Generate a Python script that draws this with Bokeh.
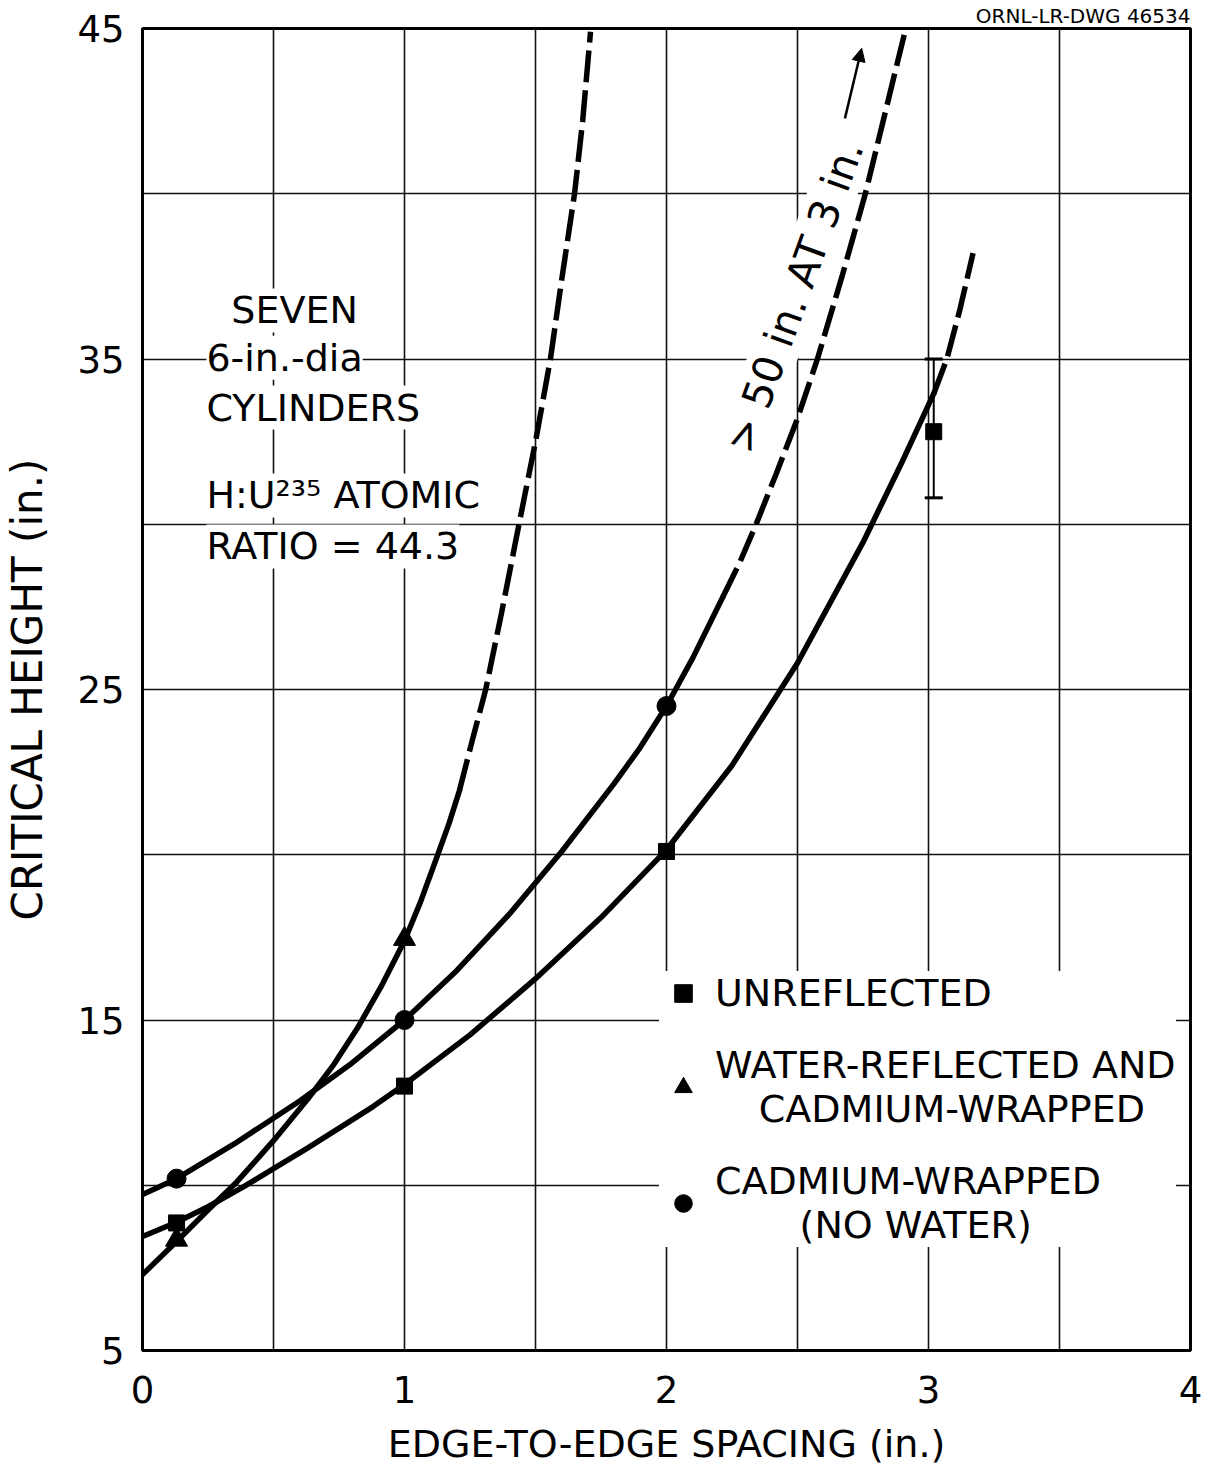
from bokeh.plotting import figure
from bokeh.models import (Range1d, FixedTicker, Label, Legend, LegendItem, Whisker,
                          TeeHead, Arrow, NormalHead, ColumnDataSource)
from bokeh.embed import file_html
from bokeh.resources import INLINE

# ---------------- data ----------------
# Unreflected (squares)
unrefl_x = [0.13, 1.0, 2.0, 3.02]
unrefl_y = [8.86, 13.0, 20.1, 32.8]
unrefl_curve_x = [0.0, 0.13, 0.25, 0.385, 0.5, 0.625, 0.755, 0.88, 1.0, 1.25, 1.5,
                  1.75, 2.0, 2.25, 2.5, 2.75, 2.9, 3.02]
unrefl_curve_y = [8.45, 8.88, 9.35, 9.95, 10.5, 11.1, 11.75, 12.38, 13.05, 14.55, 16.25,
                  18.1, 20.15, 22.7, 25.8, 29.45, 31.9, 33.95]
unrefl_dash_x = [3.02, 3.07, 3.12, 3.17]
unrefl_dash_y = [33.95, 35.0, 36.5, 38.2]
err_x = [3.02]
err_lo = [30.8]
err_hi = [35.0]

# Water-reflected and cadmium-wrapped (triangles)
water_x = [0.13, 1.0]
water_y = [8.35, 17.45]
water_curve_x = [0.0, 0.13, 0.25, 0.36, 0.5, 0.63, 0.73, 0.82, 0.91, 1.0, 1.06, 1.12, 1.17, 1.21]
water_curve_y = [7.3, 8.3, 9.25, 10.1, 11.35, 12.6, 13.65, 14.75, 16.0, 17.4, 18.55, 19.85, 20.95, 21.95]
water_dash_x = [1.21, 1.26, 1.31, 1.37, 1.437, 1.5, 1.557, 1.6, 1.649, 1.68, 1.71]
water_dash_y = [21.95, 23.5, 25.0, 27.3, 30.0, 32.5, 35.0, 37.4, 40.0, 42.2, 44.9]

# Cadmium-wrapped, no water (circles)
cad_x = [0.13, 1.0, 2.0]
cad_y = [10.2, 15.0, 24.5]
cad_curve_x = [0.0, 0.13, 0.35, 0.6, 0.8, 1.0, 1.2, 1.4, 1.6, 1.8, 1.9, 2.0, 2.1, 2.215]
cad_curve_y = [9.72, 10.2, 11.25, 12.55, 13.7, 15.0, 16.5, 18.2, 20.1, 22.15, 23.25, 24.5, 25.95, 27.8]
cad_dash_x = [2.215, 2.28, 2.342, 2.42, 2.5, 2.576, 2.67, 2.759, 2.83, 2.91]
cad_dash_y = [27.8, 28.85, 30.0, 31.55, 33.2, 35.0, 37.5, 40.0, 42.3, 44.9]

x_ticks = [0, 1, 2, 3, 4]
y_ticks = [5, 15, 25, 35, 45]
x_grid = [0.5, 1.0, 1.5, 2.0, 2.5, 3.0, 3.5]
y_grid = [10, 15, 20, 25, 30, 35, 40]

NB = "\u00a0"
legend_labels = ["UNREFLECTED",
                 "WATER-REFLECTED AND\n" + NB * 3 + "\u2009" + "CADMIUM-WRAPPED",
                 "CADMIUM-WRAPPED\n" + NB * 7 + "(NO WATER)"]

FONT = "DejaVu Sans"
LW = 5.5
DASH = "32 8"

p = figure(width=1208, height=1471, x_range=Range1d(0, 4), y_range=Range1d(5, 45),
           output_backend="svg", toolbar_location=None,
           min_border_left=141, min_border_top=28, min_border_right=18, min_border_bottom=121,
           background_fill_color="white", border_fill_color="white")

# drawing number at the top right
p.title.text = "ORNL-LR-DWG 46534"
p.title.align = "right"
p.title.text_font = FONT
p.title.text_font_size = "20px"
p.title.text_font_style = "normal"
p.title.text_color = "black"
p.title.standoff = 2

p.outline_line_color = "black"
p.outline_line_width = 3

p.xaxis.ticker = FixedTicker(ticks=x_ticks)
p.yaxis.ticker = FixedTicker(ticks=y_ticks)
p.xgrid.ticker = FixedTicker(ticks=x_grid)
p.ygrid.ticker = FixedTicker(ticks=y_grid)
for g in (p.xgrid, p.ygrid):
    g.grid_line_color = "#111111"
    g.grid_line_width = 1.6
    g.grid_line_alpha = 1.0

for ax in (p.xaxis, p.yaxis):
    ax.axis_line_color = None
    ax.major_tick_line_color = None
    ax.minor_tick_line_color = None
    ax.major_tick_out = 0
    ax.major_tick_in = 0
    ax.major_label_text_font = FONT
    ax.major_label_text_font_size = "37px"
    ax.major_label_text_color = "black"
    ax.axis_label_text_font = FONT
    ax.axis_label_text_font_style = "normal"
    ax.axis_label_text_color = "black"

p.xaxis.axis_label = "EDGE-TO-EDGE SPACING (in.)"
p.yaxis.axis_label = "CRITICAL HEIGHT (in.)"
p.xaxis.axis_label_text_font_size = "38px"
p.yaxis.axis_label_text_font_size = "42px"
p.xaxis.major_label_standoff = 25
p.xaxis.axis_label_standoff = 16
p.yaxis.major_label_standoff = 18
p.yaxis.axis_label_standoff = 22

# ---------------- text annotations (behind curves, white boxes) ----------------
def note(x, y, text, size="38px", **kw):
    lab = Label(x=x, y=y, text=text, text_font=FONT, text_font_size=size,
                text_color="black", background_fill_color="white", background_fill_alpha=1.0,
                level="underlay", **kw)
    p.add_layout(lab)
    return lab

note(0.339, 36.47, "SEVEN", text_baseline="alphabetic")
note(0.244, 35.04, "6-in.-dia", text_baseline="alphabetic")
note(0.244, 33.53, "CYLINDERS", text_baseline="alphabetic")
note(0.244, 30.87, "H:U\u00b2\u00b3\u2075 ATOMIC", text_baseline="alphabetic")
note(0.244, 29.33, "RATIO = 44.3", text_baseline="alphabetic")
note(2.49, 36.89, "> 50 in. AT 3 in.", size="41px", angle=70, angle_units="deg",
     text_align="center", text_baseline="middle")

p.add_layout(Arrow(end=NormalHead(size=13, fill_color="black", line_color="black", line_width=1),
                   x_start=2.681, y_start=42.28, x_end=2.745, y_end=44.4,
                   line_color="black", line_width=2.5))

# ---------------- curves ----------------
p.line(unrefl_curve_x, unrefl_curve_y, line_color="black", line_width=LW, line_cap="round",
       line_join="round")
p.line(unrefl_dash_x, unrefl_dash_y, line_color="black", line_width=LW, line_dash=DASH)
p.line(water_curve_x, water_curve_y, line_color="black", line_width=LW, line_cap="round",
       line_join="round")
p.line(water_dash_x, water_dash_y, line_color="black", line_width=LW, line_dash=DASH)
p.line(cad_curve_x, cad_curve_y, line_color="black", line_width=LW, line_cap="round",
       line_join="round")
p.line(cad_dash_x, cad_dash_y, line_color="black", line_width=LW, line_dash=DASH)

err_src = ColumnDataSource(dict(x=err_x, lo=err_lo, hi=err_hi))
p.add_layout(Whisker(source=err_src, base="x", lower="lo", upper="hi", dimension="height",
                     line_color="black", line_width=2,
                     upper_head=TeeHead(size=18, line_width=3, line_color="black"),
                     lower_head=TeeHead(size=18, line_width=3, line_color="black")))

r_sq = p.scatter(unrefl_x, unrefl_y, marker="square", size=16, color="black")
r_tri = p.scatter(water_x, water_y, marker="triangle", size=22, color="black")
r_cir = p.scatter(cad_x, cad_y, marker="circle", size=19, color="black")

legend = Legend(items=[LegendItem(label=legend_labels[0], renderers=[r_sq]),
                       LegendItem(label=legend_labels[1], renderers=[r_tri]),
                       LegendItem(label=legend_labels[2], renderers=[r_cir])],
                location=(517, 103), orientation="vertical",
                label_text_font=FONT, label_text_font_size="38px", label_text_color="black",
                glyph_width=48, glyph_height=44, label_height=44, label_standoff=8,
                spacing=28, padding=8, margin=0,
                border_line_color=None, background_fill_color="white", background_fill_alpha=1.0)
p.add_layout(legend)

open("out.html", "w").write(file_html(p, INLINE))
